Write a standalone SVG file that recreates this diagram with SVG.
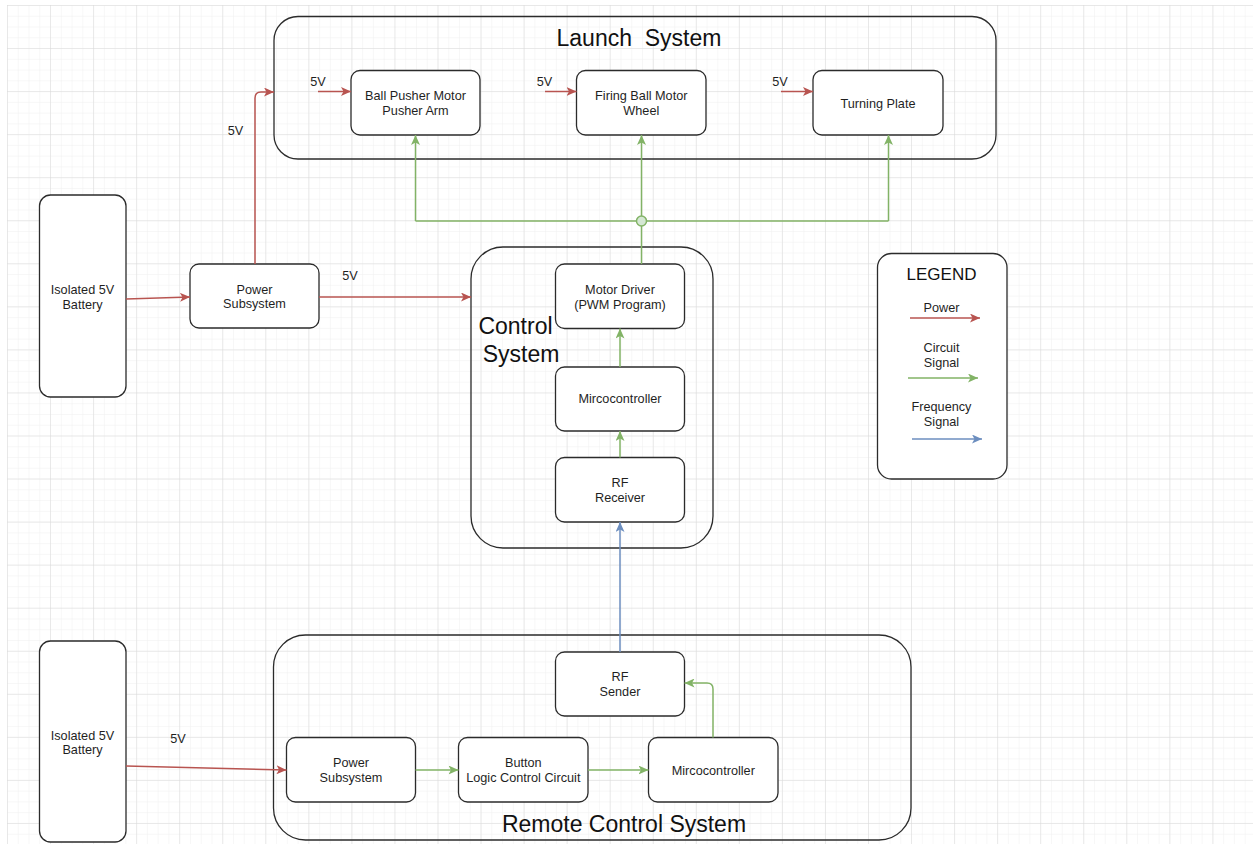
<svg xmlns="http://www.w3.org/2000/svg" width="1253" height="844" viewBox="0 0 1253 844">
<defs>
<pattern id="minor" x="7" y="5" width="10.7625" height="10.7625" patternUnits="userSpaceOnUse">
<path d="M0,0 V10.7625 M0,0 H10.7625" fill="none" stroke="#efefef" stroke-width="1"/>
</pattern>
<pattern id="major" x="7" y="5" width="43.05" height="43.05" patternUnits="userSpaceOnUse">
<path d="M0,0 V43.05 M0,0 H43.05" fill="none" stroke="#d9d9d9" stroke-width="1"/>
</pattern>
<marker id="ar" viewBox="0 0 10 9" refX="10" refY="4.5" markerWidth="10" markerHeight="9" markerUnits="userSpaceOnUse" orient="auto">
<path d="M0,0 L10,4.5 L0,9 L2.5,4.5 Z" fill="#b85450"/>
</marker>
<marker id="ag" viewBox="0 0 10 9" refX="10" refY="4.5" markerWidth="10" markerHeight="9" markerUnits="userSpaceOnUse" orient="auto">
<path d="M0,0 L10,4.5 L0,9 L2.5,4.5 Z" fill="#82b366"/>
</marker>
<marker id="ab" viewBox="0 0 10 9" refX="10" refY="4.5" markerWidth="10" markerHeight="9" markerUnits="userSpaceOnUse" orient="auto">
<path d="M0,0 L10,4.5 L0,9 L2.5,4.5 Z" fill="#6c8ebf"/>
</marker>
</defs>
<style>
.box{fill:#ffffff;stroke:#2b2b2b;stroke-width:1.3}
.cont{fill:none;stroke:#2b2b2b;stroke-width:1.3}
.t{font-family:"Liberation Sans",Arial,sans-serif;font-size:12.7px;fill:#1f1f1f;text-anchor:middle}
.title{font-family:"Liberation Sans",Arial,sans-serif;font-size:23px;fill:#111111;text-anchor:middle}
.leg{font-family:"Liberation Sans",Arial,sans-serif;font-size:17px;fill:#111111;text-anchor:middle}
.red{fill:none;stroke:#b85450;stroke-width:1.5}
.green{fill:none;stroke:#82b366;stroke-width:1.5}
.blue{fill:none;stroke:#6c8ebf;stroke-width:1.5}
</style>
<rect width="1253" height="844" fill="#ffffff"/>
<rect x="7" y="5" width="1246" height="839" fill="url(#minor)"/>
<rect x="7" y="5" width="1246" height="839" fill="url(#major)"/>

<g id="launch-system">
<rect class="cont" x="274" y="16.5" width="722" height="142.5" rx="24"/>
<text class="title" x="639" y="46" xml:space="preserve">Launch  System</text>
</g>
<g id="control-system">
<rect class="cont" x="471" y="247" width="242" height="301" rx="32"/>
<text class="title" x="515.5" y="334">Control</text>
<text class="title" x="521" y="362">System</text>
</g>
<g id="remote-control-system">
<rect class="cont" x="273.5" y="635" width="637.5" height="205" rx="32"/>
<text class="title" x="624" y="832">Remote Control System</text>
</g>

<g id="battery-1">
<rect class="box" x="39.5" y="195" width="86.5" height="202" rx="11"/>
<text class="t" x="82.5" y="294">Isolated 5V</text>
<text class="t" x="82.5" y="308.5">Battery</text>
</g>
<g id="power-subsystem-1">
<rect class="box" x="190" y="264" width="129" height="64" rx="9"/>
<text class="t" x="254.5" y="293.5">Power</text>
<text class="t" x="254.5" y="308">Subsystem</text>
</g>
<g id="ball-pusher">
<rect class="box" x="351" y="70.5" width="129" height="64.5" rx="9"/>
<text class="t" x="415.5" y="100">Ball Pusher Motor</text>
<text class="t" x="415.5" y="114.5">Pusher Arm</text>
</g>
<g id="firing-ball">
<rect class="box" x="576.5" y="70.5" width="129.5" height="64.5" rx="9"/>
<text class="t" x="641.3" y="100">Firing Ball Motor</text>
<text class="t" x="641.3" y="114.5">Wheel</text>
</g>
<g id="turning-plate">
<rect class="box" x="813" y="70.5" width="130" height="64.5" rx="9"/>
<text class="t" x="878" y="107.5">Turning Plate</text>
</g>
<g id="motor-driver">
<rect class="box" x="555.5" y="264" width="129" height="64.5" rx="9"/>
<text class="t" x="620" y="293.5">Motor Driver</text>
<text class="t" x="620" y="308.5">(PWM Program)</text>
</g>
<g id="microcontroller-1">
<rect class="box" x="555.5" y="367" width="129" height="64" rx="9"/>
<text class="t" x="620" y="403">Mircocontroller</text>
</g>
<g id="rf-receiver">
<rect class="box" x="555.5" y="457.5" width="129" height="64.5" rx="9"/>
<text class="t" x="620" y="487">RF</text>
<text class="t" x="620" y="502">Receiver</text>
</g>
<g id="legend">
<rect class="box" x="877.5" y="253.5" width="129.5" height="225.5" rx="14"/>
<text class="leg" x="941.5" y="279.5">LEGEND</text>
<text class="t" x="941.5" y="312">Power</text>
<text class="t" x="941.5" y="351.5">Circuit</text>
<text class="t" x="941.5" y="366.5">Signal</text>
<text class="t" x="941.5" y="410.5">Frequency</text>
<text class="t" x="941.5" y="426">Signal</text>
<line class="red" x1="910" y1="318" x2="980" y2="318" marker-end="url(#ar)"/>
<line class="green" x1="908" y1="378" x2="978" y2="378" marker-end="url(#ag)"/>
<line class="blue" x1="912" y1="439" x2="982" y2="439" marker-end="url(#ab)"/>
</g>
<g id="battery-2">
<rect class="box" x="39.5" y="641" width="86.5" height="201" rx="11"/>
<text class="t" x="82.5" y="739.5">Isolated 5V</text>
<text class="t" x="82.5" y="754">Battery</text>
</g>
<g id="power-subsystem-2">
<rect class="box" x="286.5" y="737.5" width="129" height="64.5" rx="9"/>
<text class="t" x="351" y="767">Power</text>
<text class="t" x="351" y="782">Subsystem</text>
</g>
<g id="button-logic">
<rect class="box" x="458.5" y="737.5" width="129.5" height="64.5" rx="9"/>
<text class="t" x="523.3" y="767">Button</text>
<text class="t" x="523.3" y="782">Logic Control Circuit</text>
</g>
<g id="microcontroller-2">
<rect class="box" x="648.5" y="737.5" width="129.5" height="64.5" rx="9"/>
<text class="t" x="713.3" y="775">Mircocontroller</text>
</g>
<g id="rf-sender">
<rect class="box" x="555.5" y="652" width="129" height="64" rx="9"/>
<text class="t" x="620" y="681">RF</text>
<text class="t" x="620" y="696">Sender</text>
</g>

<g id="connectors">
<line class="red" x1="126" y1="299" x2="190" y2="297" marker-end="url(#ar)"/>
<path class="red" d="M255,264 V98 Q255,92 261,92 H274" marker-end="url(#ar)"/>
<line class="red" x1="319" y1="297" x2="471" y2="297" marker-end="url(#ar)"/>
<line class="red" x1="318" y1="91.5" x2="351" y2="91.5" marker-end="url(#ar)"/>
<line class="red" x1="545" y1="91.5" x2="576.5" y2="91.5" marker-end="url(#ar)"/>
<line class="red" x1="781" y1="91.5" x2="813" y2="91.5" marker-end="url(#ar)"/>
<line class="red" x1="126" y1="766" x2="286.5" y2="770" marker-end="url(#ar)"/>
<path class="green" d="M641.5,264 V226"/>
<path class="green" d="M415.5,221 H636.5 M646.5,221 H888.5"/>
<path class="green" d="M415.5,221 V135" marker-end="url(#ag)"/>
<path class="green" d="M641.5,216 V135" marker-end="url(#ag)"/>
<path class="green" d="M888.5,221 V135" marker-end="url(#ag)"/>
<circle cx="641.5" cy="221" r="5" fill="#d5e8d4" stroke="#82b366" stroke-width="1.5"/>
<line class="green" x1="620" y1="367" x2="620" y2="328.5" marker-end="url(#ag)"/>
<line class="green" x1="620" y1="457.5" x2="620" y2="431" marker-end="url(#ag)"/>
<line class="blue" x1="620" y1="652" x2="620" y2="522" marker-end="url(#ab)"/>
<line class="green" x1="415.5" y1="770" x2="458.5" y2="770" marker-end="url(#ag)"/>
<line class="green" x1="588" y1="770" x2="648.5" y2="770" marker-end="url(#ag)"/>
<path class="green" d="M713,737.5 V689 Q713,683 707,683 H684.5" marker-end="url(#ag)"/>
<text class="t" x="235.5" y="135">5V</text>
<text class="t" x="350" y="280">5V</text>
<text class="t" x="318" y="86">5V</text>
<text class="t" x="544.5" y="86">5V</text>
<text class="t" x="780" y="86">5V</text>
<text class="t" x="178" y="743">5V</text>
</g>
</svg>
